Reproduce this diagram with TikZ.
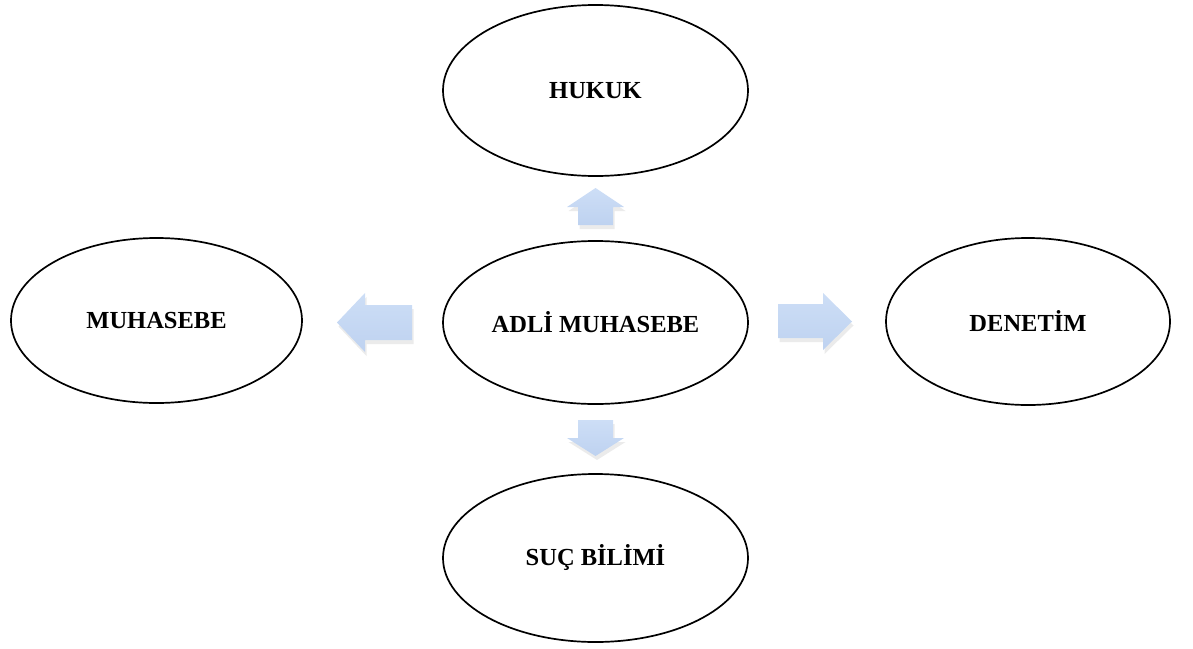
\documentclass[tikz,border=0pt]{standalone}
\usepackage{fontspec}
\setmainfont{Liberation Serif}
\usetikzlibrary{shapes.geometric,shadows}
\definecolor{arrowtop}{RGB}{205,222,246}
\definecolor{arrowbot}{RGB}{190,210,240}
\tikzset{
  bubble/.style={ellipse, draw=black, line width=1.7pt, fill=white, inner sep=0pt,
     font=\fontsize{24.5}{28}\selectfont\bfseries},
  blockarrow/.style={top color=arrowtop, bottom color=arrowbot, draw=none},
  arrowshadow/.style={fill=black, opacity=0.08, draw=none},
}
\begin{document}
\begin{tikzpicture}[x=1pt,y=-1pt]
\useasboundingbox (0,0) rectangle (1193,648);
\node[bubble, minimum width=305pt, minimum height=171pt] (hukuk) at (595.5,90.5) {HUKUK};
\node[bubble, minimum width=291pt, minimum height=165pt] (muh) at (156.5,320.5) {MUHASEBE};
\node[bubble, minimum width=305pt, minimum height=163pt] (adli) at (595.5,322.5) {ADLİ MUHASEBE};
\node[bubble, minimum width=284pt, minimum height=167pt] (den) at (1028,321.5) {DENETİM};
\node[bubble, minimum width=305pt, minimum height=168pt] (suc) at (595.5,558) {SUÇ BİLİMİ};
% shadows
\begin{scope}[shift={(1.5,4)}]
\fill[arrowshadow] (412,305) -- (365,305) -- (365,293) -- (337,322.5) -- (365,352) -- (365,340) -- (412,340) -- cycle;
\fill[arrowshadow] (778,304) -- (823,304) -- (823,293) -- (852,321.5) -- (823,350) -- (823,338) -- (778,338) -- cycle;
\fill[arrowshadow] (578,225) -- (578,207) -- (567,207) -- (595.5,188) -- (624,207) -- (613,207) -- (613,225) -- cycle;
\fill[arrowshadow] (578,420) -- (613,420) -- (613,438) -- (624,438) -- (595.5,456) -- (567,438) -- (578,438) -- cycle;
\end{scope}
% arrows
\path[blockarrow] (412,305) -- (365,305) -- (365,293) -- (337,322.5) -- (365,352) -- (365,340) -- (412,340) -- cycle;
\path[blockarrow] (778,304) -- (823,304) -- (823,293) -- (852,321.5) -- (823,350) -- (823,338) -- (778,338) -- cycle;
\path[blockarrow] (578,225) -- (578,207) -- (567,207) -- (595.5,188) -- (624,207) -- (613,207) -- (613,225) -- cycle;
\path[blockarrow] (578,420) -- (613,420) -- (613,438) -- (624,438) -- (595.5,456) -- (567,438) -- (578,438) -- cycle;
\end{tikzpicture}
\end{document}
